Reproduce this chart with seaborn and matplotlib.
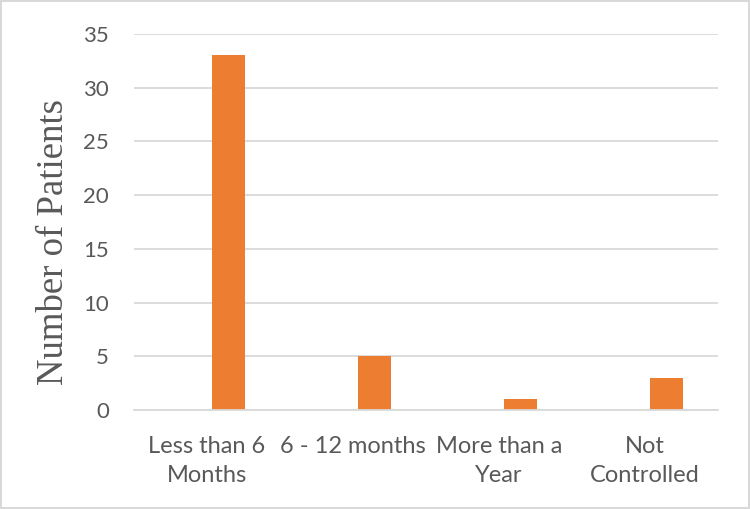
import pandas as pd
import seaborn as sns
import matplotlib.pyplot as plt

# chart data
categories = ['Less than 6\nMonths', '6 - 12 months', 'More than a\nYear', 'Not\nControlled']
patients = [33, 5, 1, 3]
y_ticks = [0, 5, 10, 15, 20, 25, 30, 35]

df = pd.DataFrame({'Duration': categories, 'Patients': patients})

sns.set_style('white')
plt.rcParams['font.family'] = ['Lato', 'DejaVu Sans']

fig = plt.figure(figsize=(7.5, 5.09), dpi=100)
fig.patch.set_edgecolor('#D9D9D9')
fig.patch.set_linewidth(1.5)
ax = fig.add_axes([0.1787, 0.1945, 0.7787, 0.7387])

sns.barplot(data=df, x='Duration', y='Patients', color='#ED7D31', saturation=1,
            width=0.226, linewidth=0, ax=ax)
# Excel left room for an empty first series, so bars sit right of the label
for p in ax.patches:
    p.set_x(p.get_x() + 0.144)

ax.set_ylim(0, 35)
ax.set_yticks(y_ticks)
ax.yaxis.grid(True, color='#D9D9D9', linewidth=1.3)
ax.set_axisbelow(True)
for s in ['top', 'right', 'left']:
    ax.spines[s].set_visible(False)
ax.spines['bottom'].set_color('#D9D9D9')
ax.spines['bottom'].set_linewidth(1.3)

ax.tick_params(axis='y', length=0, pad=18, labelsize=16, labelcolor='#595959')
ax.tick_params(axis='x', length=0, pad=19, labelsize=17, labelcolor='#595959')
for t in ax.get_xticklabels():
    t.set_linespacing(1.45)

ax.set_xlabel('')
ax.set_ylabel('Number of Patients', fontsize=26.5, family='Liberation Serif', color='#595959', va='center')
ax.yaxis.set_label_coords(-0.137, 0.447)

fig.savefig('out.png', dpi=100)
